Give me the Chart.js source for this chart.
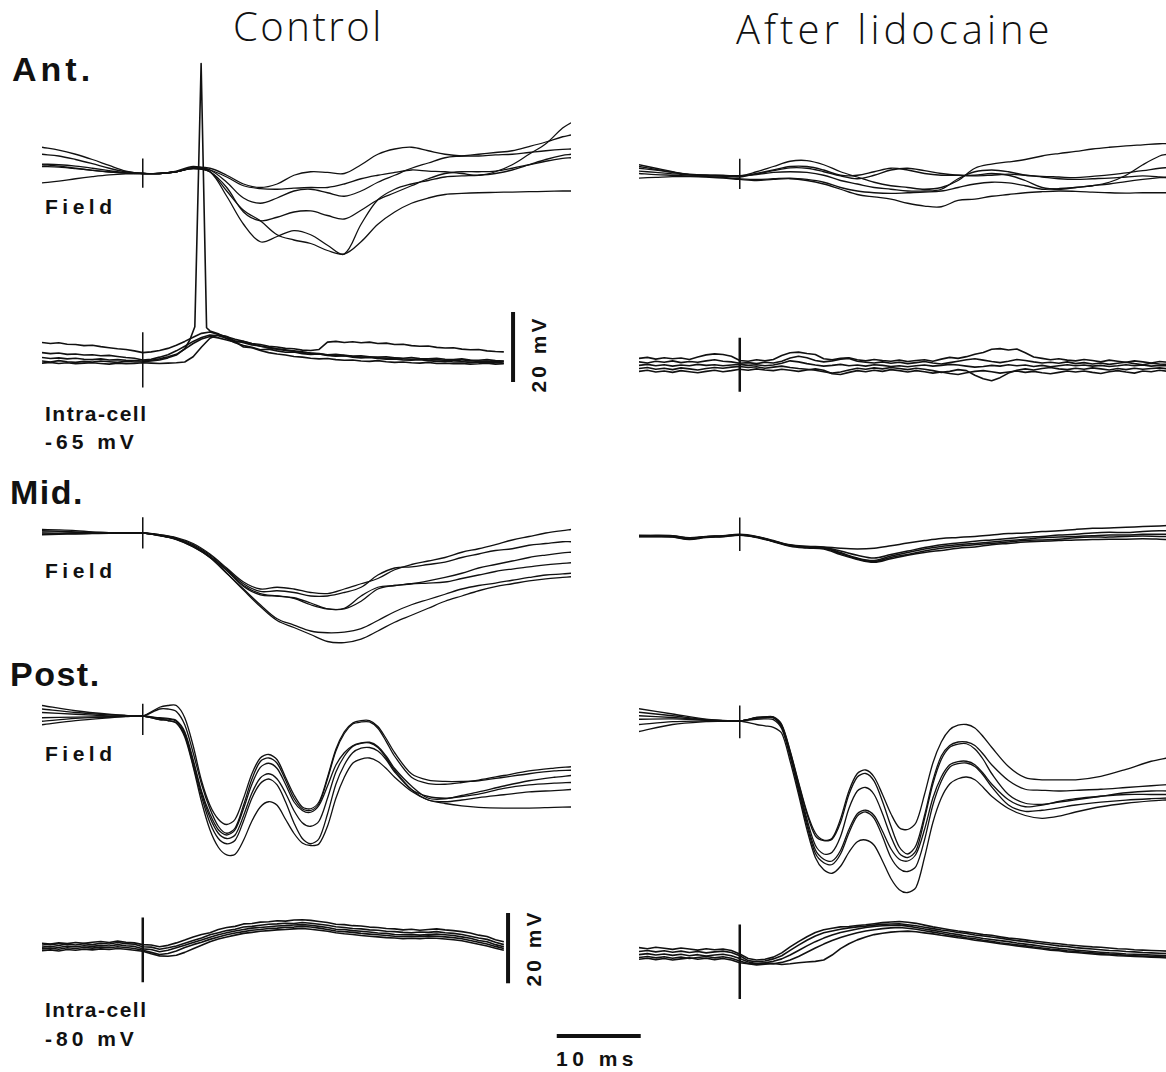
<!DOCTYPE html>
<html>
<head>
<meta charset="utf-8">
<script src="https://cdn.jsdelivr.net/npm/chart.js@4.4.1/dist/chart.umd.min.js"></script>
<style>
  body { margin: 0; width: 1166px; height: 1072px; background: #fff; position: relative; overflow: hidden; }
  canvas { position: absolute; }
  .lbl { position: absolute; font-family: "Liberation Sans", Arial, sans-serif; font-weight: bold; color: #111; line-height: 1; white-space: nowrap; }
  .row { font-size: 34px; letter-spacing: 1.5px; }
  .sub { font-size: 21px; letter-spacing: 1.5px; }
  .title { position: absolute; font-family: "Open Sans", sans-serif; font-weight: 300; font-size: 40px; line-height: 1; color: #111; white-space: nowrap; letter-spacing: 2.5px; }
  .vert { transform: translate(-50%, -50%) rotate(-90deg); }
</style>
</head>
<body>
<div class="title" style="left:233px; top:6px;">Control</div>
<div class="title" style="left:736px; top:9px; letter-spacing:4px;">After lidocaine</div>

<div class="lbl row" style="left:12px; top:52px; letter-spacing:4px;">Ant.</div>
<div class="lbl sub" style="left:45px; top:196px; letter-spacing:4.5px;">Field</div>
<div class="lbl sub" style="left:45px; top:403px;">Intra-cell</div>
<div class="lbl sub" style="left:45px; top:431px; letter-spacing:4px;">-65 mV</div>

<div class="lbl row" style="left:10px; top:475px;">Mid.</div>
<div class="lbl sub" style="left:45px; top:560px; letter-spacing:4.5px;">Field</div>

<div class="lbl row" style="left:10px; top:657px;">Post.</div>
<div class="lbl sub" style="left:45px; top:743px; letter-spacing:4.5px;">Field</div>
<div class="lbl sub" style="left:45px; top:999px;">Intra-cell</div>
<div class="lbl sub" style="left:45px; top:1028px; letter-spacing:4px;">-80 mV</div>

<div class="lbl sub vert" style="left:538px; top:354px; letter-spacing:3px;">20 mV</div>
<div class="lbl sub vert" style="left:533px; top:948px; letter-spacing:3px;">20 mV</div>
<div class="lbl sub" style="left:556px; top:1048px; letter-spacing:4.5px;">10 ms</div>

<script>
// ---- sample times, ms from the stimulus ----
const fieldTimes = [-12,-10,-8,-6,-4,-2,0,2,4,6,8,10,12,14,16,18,20,22,24,26,28,30,32,34,36,38,40,42,44,46,48,50,51];
const postFieldTimes = [-12,-8,-4,-2,0,2,3,4,5,6,7,8,9,10,11,12,13,14,15,16,17,18,19,20,21,22,23,24,25,26,27,28,29,30,32,34,36,38,40,43,46,49,51];
const ctlIntraTimes = [-12,-11,-10,-9,-8,-7,-6,-5,-4,-3,-2,-1,0,1,2,3,4,5,6,7,8,9,10,11,12,13,14,15,16,17,18,19,20,21,22,23,24,25,26,27,28,29,30,31,32,33,34,35,36,37,38,39,40,41,42,43];
const aftIntraTimes = [-12,-11,-10,-9,-8,-7,-6,-5,-4,-3,-2,-1,0,1,2,3,4,5,6,7,8,9,10,11,12,13,14,15,16,17,18,19,20,21,22,23,24,25,26,27,28,29,30,31,32,33,34,35,36,37,38,39,40,41,42,43,44,45,46,47,48,49,50,51];
const spikeTimes = [-12,-11,-10,-9,-8,-7,-6,-5,-4,-3,-2,-1,0,1,2,3,4,5,5.6,6.2,6.95,7.6,8,9,10,11,12,13,14,15,16,17,18,19,20,21,22,23,24,25,26,27,28,29,30,31,32,33,34,35,36,37,38,39,40,41,42,43];

// ---- Ant., control: field sweeps ----
const antCtl1 = [2.5,2.1,1.5,0.9,0.4,0.1,0,0,0.5,1.7,1.5,-0.5,-3.0,-4.0,-3.0,-0.5,0.5,0.3,0,2.5,5.5,7.0,7.5,6.5,5.5,5.0,5.0,5.3,5.5,6.0,6.5,6.9,7.0];
const antCtl2 = [7.5,6.7,5.5,4.0,2.3,0.7,0,0,0.7,2.0,1.0,-1.0,-3.5,-4.3,-4.5,-4.2,-4.0,-4.0,-3.0,-1.5,-0.5,0.3,1.0,0.7,0.5,0,-0.5,0.5,2.5,5.5,8.5,13.0,14.5];
const antCtl3 = [5.5,5.0,4.0,2.8,1.5,0.5,0,0,0.5,1.7,1.0,-2.5,-7.0,-8.5,-7.0,-5.0,-4.5,-5.5,-6.5,-5.0,-2.5,-0.5,1.5,3.0,4.5,5.0,5.5,6.0,6.5,7.7,9.0,10.5,11.0];
const antCtl4 = [2.0,1.8,1.4,0.9,0.5,0.1,0,0,0.5,1.5,0.5,-4.0,-11.0,-13.5,-12.5,-11.0,-10.7,-12.0,-13.0,-10.5,-7.5,-5.5,-3.5,-1.5,0,0.5,0.5,0.7,1.5,2.5,3.5,4.3,4.5];
const antCtl5 = [2.7,2.5,2.1,1.5,0.8,0.2,0,0,0.5,1.5,0.5,-6.5,-14.5,-19.5,-18.0,-16.3,-17.5,-20.5,-23.0,-14.5,-7.5,-4.5,-3.0,-2.0,-1.0,-0.7,-0.5,0,1.0,2.5,4.0,5.2,5.5];
const antCtl6 = [-2.7,-2.2,-1.5,-0.9,-0.4,-0.1,0,0,0.5,1.3,0.5,-5.0,-10.5,-13.5,-17.5,-19.0,-20.0,-22.0,-23.0,-19.5,-14.5,-11.0,-8.5,-7.0,-6.0,-5.7,-5.5,-5.4,-5.3,-5.2,-5.1,-5.0,-5.0];

// ---- Ant., control: intracellular sweeps (mV from -65 mV) ----
const antIntra1 = [5.3,5.0,5.2,4.8,4.7,4.4,4.5,4.1,3.8,3.5,3.3,2.9,2.4,2.6,3.0,3.6,4.5,5.6,6.8,7.9,8.3,7.6,6.9,6.2,5.6,5.0,4.7,4.2,4.0,3.6,3.5,3.1,3.0,3.3,5.4,5.6,5.3,5.5,5.2,5.4,5.0,5.1,4.7,4.8,4.4,4.2,4.3,3.9,3.7,3.8,3.4,3.2,3.3,2.9,2.7,2.6];
const antIntra2 = [2.4,2.1,2.3,1.9,2.0,1.7,1.8,1.5,1.6,1.3,1.0,0.8,0.3,0.5,1.1,1.8,2.9,4.2,5.6,6.7,7.4,7.2,6.5,5.8,5.2,4.6,4.3,3.7,3.4,3.0,2.9,2.5,2.3,2.1,1.8,1.9,1.6,1.4,1.5,1.2,1.1,1.2,0.9,0.8,1.0,0.7,0.6,0.8,0.5,0.4,0.6,0.3,0.2,0.4,0.1,0.0];
const antIntra3 = [1.0,0.7,0.9,0.6,0.8,0.5,0.4,0.6,0.3,0.4,0.2,0.1,0,0.2,0.6,1.2,1.9,3.4,5.0,6.3,7.0,6.6,6.0,5.4,5.6,4.9,4.2,3.9,3.5,3.2,2.8,2.6,2.2,2.0,1.7,1.5,1.6,1.3,1.1,1.2,0.9,0.8,0.9,0.6,0.5,0.6,0.3,0.4,0.2,0.3,0.0,0.1,-0.1,0.0,-0.2,-0.1];
const antIntra5 = [-0.6,-0.4,-0.7,-0.5,-0.8,-0.6,-0.5,-0.7,-0.9,-0.6,-0.8,-0.7,-0.5,-0.6,-0.7,-0.6,-0.5,-0.3,1.2,4.0,6.5,7.5,7.0,5.5,4.0,3.8,3.0,2.4,2.0,1.7,1.3,1.1,0.8,0.6,0.7,0.4,0.2,0.3,0.0,-0.1,0.1,-0.2,-0.4,-0.3,-0.5,-0.6,-0.4,-0.7,-0.6,-0.8,-0.7,-0.9,-0.8,-0.6,-0.9,-0.8];
const antSpike = [0.0,-0.3,0.1,-0.2,-0.4,-0.1,-0.3,0.0,-0.2,-0.4,-0.1,-0.3,-0.2,0.0,0.3,0.9,1.7,3.5,6.0,9.8,85,9.5,8.6,7.8,6.4,5.2,4.4,3.9,3.2,3.4,2.9,2.5,2.6,2.1,1.9,2.0,1.6,1.4,1.5,1.1,0.9,1.0,0.7,0.5,0.6,0.3,0.2,0.4,0.1,-0.1,0.0,-0.3,-0.2,-0.4,-0.3,-0.5,-0.4,-0.6];

// ---- Ant., after lidocaine ----
const antAft1 = [3.5,2.5,1.5,0.7,0.5,0.5,0.3,1.5,3.0,4.5,4.7,3.5,1.5,0,-1.5,-2.5,-3.0,-3.5,-3.0,-1.0,2.5,3.7,4.3,5.0,6.0,6.7,7.3,8.0,8.5,8.9,9.2,9.5,9.5];
const antAft2 = [2.5,2.0,1.3,0.7,0.3,0.2,0,1.0,2.0,3.0,3.0,2.0,0.5,0.5,1.5,2.5,2.0,1.0,0.5,0.5,0.5,1.0,0.5,-1.0,-3.0,-3.5,-3.0,-2.5,-1.5,0.5,3.5,6.0,6.5];
const antAft3 = [1.7,1.3,0.9,0.6,0.5,0.4,0.3,0.7,1.3,1.5,1.3,0.5,-1.0,-2.0,-3.0,-3.5,-4.0,-4.0,-3.5,-0.5,1.5,2.0,1.5,0.5,0,-0.5,-0.7,-0.5,-0.3,0,0.3,0,-0.3];
const antAft4 = [1.0,0.7,0.5,0.3,0.1,-0.1,-0.5,-0.7,-0.5,-0.3,-0.7,-1.5,-3.0,-4.0,-4.5,-4.7,-4.5,-4.3,-4.0,-3.0,-2.0,-1.5,-1.7,-2.5,-3.5,-3.3,-3.0,-2.5,-2.0,-1.3,-0.7,-0.2,0];
const antAft5 = [-0.3,-0.1,0.1,0.1,0,-0.3,-0.7,-1.0,-0.7,-0.5,-1.0,-2.0,-3.5,-5.0,-5.7,-6.3,-7.5,-8.3,-8.5,-6.7,-6.3,-5.5,-5.0,-4.5,-4.2,-4.0,-4.1,-4.3,-4.5,-4.6,-4.5,-4.5,-4.5];
const antAft6 = [3.0,2.2,1.4,0.8,0.5,0.4,0.4,0.8,1.8,2.6,2.5,1.5,0.3,-0.5,0.5,2.0,2.5,1.8,1.0,0.5,0.3,0.5,0.8,0.5,0.2,0,-0.2,0.2,0.6,1.2,1.8,2.5,2.7];

const antAftIntra1 = [1.6,1.9,1.4,1.8,1.5,1.7,1.3,2.0,2.6,2.9,2.7,2.2,1.0,0.8,1.2,0.9,1.3,2.4,3.2,3.4,3.0,2.7,1.5,1.2,1.6,1.8,1.2,0.9,1.3,1.0,0.8,1.1,0.7,1.0,1.2,0.8,1.4,1.9,1.6,2.1,2.8,3.3,4.2,4.4,4.0,4.3,3.2,2.0,1.6,1.2,1.5,1.1,0.9,1.3,1.0,0.6,1.1,0.8,0.5,0.9,0.6,0.3,0.7,0.5];
const antAftIntra2 = [0.6,0.3,0.8,0.5,0.9,0.4,0.7,0.5,0.9,1.2,0.8,0.6,0.2,0.4,0.1,0.5,0.3,0.8,1.7,2.2,1.8,1.0,0.6,0.9,1.4,1.6,0.8,0.5,0.3,0.6,0.2,0.5,0.1,0.4,0.7,0.3,0.0,0.4,0.8,1.2,1.5,1.1,0.7,0.4,0.8,1.3,1.0,0.6,0.3,0.5,0.2,0.6,0.1,0.4,0.0,0.3,-0.1,0.2,0.5,0.1,-0.2,0.2,0.0,-0.1];
const antAftIntra3 = [-0.4,-0.1,-0.5,-0.2,-0.6,-0.3,-0.5,-0.1,-0.4,-0.2,-0.5,-0.3,-0.1,-0.4,-0.2,-0.5,-0.3,0.2,0.9,0.6,0.1,-0.3,-0.6,-0.4,-0.1,-0.5,-0.3,-0.6,-0.2,-0.4,-0.7,-0.5,-0.8,-0.5,-0.3,-0.6,-0.4,-0.1,-0.3,-0.6,-0.9,-0.7,-0.4,-0.6,-0.2,-0.5,-0.3,-0.7,-0.4,-0.8,-0.5,-0.2,-0.5,-0.3,-0.6,-0.4,-0.7,-0.5,-0.2,-0.5,-0.3,-0.6,-0.4,-0.5];
const antAftIntra4 = [-1.3,-1.0,-1.5,-1.2,-1.6,-1.1,-1.4,-1.7,-1.3,-1.0,-1.2,-0.9,-0.7,-1.0,-0.8,-1.2,-0.9,-0.6,-1.0,-1.3,-1.5,-1.8,-2.2,-2.6,-2.3,-1.7,-1.2,-1.5,-1.1,-1.4,-1.0,-1.3,-1.6,-1.2,-1.5,-1.9,-2.4,-2.1,-1.6,-1.9,-3.2,-4.2,-4.8,-3.9,-2.6,-1.8,-1.4,-1.7,-1.3,-1.0,-1.4,-1.6,-1.2,-1.5,-1.1,-1.4,-1.7,-1.3,-1.6,-1.2,-1.5,-1.3,-1.1,-1.4];
const antAftIntra5 = [-2.1,-1.8,-2.3,-2.0,-2.4,-1.9,-2.2,-2.5,-2.1,-1.8,-2.2,-1.9,-1.5,-1.8,-1.4,-1.7,-1.9,-1.5,-1.8,-2.1,-1.7,-1.4,-1.8,-2.8,-3.0,-2.4,-1.9,-2.2,-1.8,-2.1,-1.6,-1.9,-2.3,-1.9,-2.2,-2.6,-2.3,-2.7,-3.0,-2.5,-2.1,-1.9,-2.2,-2.6,-2.3,-2.0,-2.4,-2.1,-2.5,-2.8,-2.4,-2.0,-2.3,-2.0,-2.4,-2.7,-2.2,-1.9,-2.3,-2.6,-2.0,-2.2,-1.8,-2.1];

// ---- Mid. ----
const midCtl1 = [1.0,0.9,0.7,0.3,0.1,0,0,-0.5,-1.3,-3.0,-6.0,-10.0,-14.0,-16.0,-15.5,-16.0,-17.0,-17.3,-16.0,-14.5,-13.0,-10.5,-9.0,-8.0,-7.0,-5.5,-4.5,-3.3,-2.0,-1.0,0,0.7,1.0];
const midCtl2 = [0.7,0.5,0.3,0.2,0.1,0,0,-0.5,-1.5,-3.3,-6.3,-10.3,-14.5,-16.7,-16.5,-17.0,-18.0,-18.0,-17.0,-15.5,-12.0,-10.0,-9.7,-9.0,-8.3,-7.0,-6.0,-5.0,-4.5,-3.5,-3.0,-2.5,-2.5];
const midCtl3 = [0.3,0.3,0.2,0.1,0,0,0,-0.7,-1.7,-3.7,-6.7,-10.7,-15.0,-17.3,-18.0,-18.7,-20.5,-21.7,-21.7,-19.5,-16.0,-15.0,-14.5,-13.7,-12.7,-11.5,-10.0,-9.0,-8.0,-7.0,-6.3,-5.7,-5.5];
const midCtl4 = [0,-0.1,0,-0.1,0,0,0,-0.7,-1.7,-3.7,-6.7,-10.7,-15.3,-17.7,-18.0,-18.5,-20.0,-21.7,-21.5,-18.0,-15.5,-15.0,-14.5,-14.3,-14.0,-13.0,-12.0,-11.0,-10.3,-9.7,-9.1,-8.7,-8.5];
const midCtl5 = [-0.3,-0.2,-0.2,-0.1,-0.1,0,0,-0.7,-1.8,-3.9,-7.0,-11.5,-16.0,-20.5,-24.5,-26.3,-28.0,-28.5,-28.3,-27.3,-25.0,-22.5,-20.5,-19.0,-17.5,-16.0,-15.0,-14.3,-13.5,-12.7,-12.0,-11.7,-11.5];
const midCtl6 = [-0.5,-0.4,-0.3,-0.2,-0.1,-0.1,0,-0.8,-1.9,-4.0,-7.0,-11.5,-16.3,-21.0,-25.0,-27.0,-29.0,-31.0,-31.3,-30.3,-28.0,-25.5,-23.5,-21.5,-19.5,-18.0,-16.5,-15.3,-14.5,-13.7,-13.1,-12.7,-12.5];

const midAft1 = [-0.2,-0.1,-0.2,-0.8,-0.4,-0.2,0.2,-0.4,-1.6,-2.8,-3.2,-3.4,-3.8,-4.0,-3.8,-3.1,-2.3,-1.6,-1.0,-0.7,-0.4,0,0.4,0.6,1.0,1.2,1.6,1.9,2.0,2.2,2.4,2.6,2.7];
const midAft2 = [-0.4,-0.4,-0.5,-1.2,-0.6,-0.4,0,-0.6,-1.8,-3.0,-3.5,-3.6,-4.6,-5.8,-6.6,-5.6,-4.6,-3.6,-2.8,-2.3,-1.8,-1.4,-1.0,-0.6,-0.4,0,0.2,0.6,0.8,0.7,1.0,1.2,1.2];
const midAft3 = [-0.3,-0.2,-0.4,-1.0,-0.5,-0.3,0.1,-0.5,-1.7,-2.9,-3.4,-3.6,-5.0,-6.6,-7.3,-6.0,-5.0,-4.0,-3.3,-2.8,-2.4,-2.0,-1.6,-1.2,-0.8,-0.6,-0.4,-0.2,0,0,0.2,0.2,0.2];
const midAft4 = [-0.1,-0.3,-0.3,-0.9,-0.5,-0.3,0,-0.6,-1.8,-3.1,-3.6,-3.8,-5.3,-6.8,-7.6,-6.4,-5.6,-4.6,-3.8,-3.2,-2.8,-2.4,-2.0,-1.6,-1.4,-1.2,-0.8,-0.6,-0.6,-0.4,-0.3,-0.4,-0.4];
const midAft5 = [-0.5,-0.5,-0.6,-1.3,-0.7,-0.5,-0.1,-0.7,-1.9,-3.2,-3.7,-4.0,-5.6,-7.0,-7.8,-6.8,-5.8,-5.0,-4.4,-3.8,-3.4,-2.8,-2.4,-2.0,-1.8,-1.6,-1.4,-1.3,-1.2,-1.2,-1.1,-1.2,-1.3];

// ---- Post. ----
const postCtl1 = [3.0,1.5,0.5,0.2,0,2.5,3.0,3.0,-0.5,-8.5,-18.5,-25.5,-29.5,-31.0,-29.5,-23.5,-16.5,-12.0,-11.0,-12.5,-17.5,-22.5,-26.0,-26.5,-24.5,-17.5,-9.5,-4.5,-2.0,-1.3,-1.3,-3.0,-6.5,-10.5,-16.5,-18.3,-18.7,-18.7,-18.5,-17.5,-16.5,-15.7,-15.5];
const postCtl2 = [2.0,1.0,0.3,0.1,0,2.0,2.0,1.3,-2.5,-10.5,-19.5,-26.5,-31.5,-33.5,-32.0,-25.5,-18.0,-13.0,-12.0,-13.5,-18.3,-23.5,-26.5,-27.0,-25.0,-18.0,-10.0,-5.0,-2.3,-1.7,-1.7,-3.5,-7.3,-11.5,-17.5,-19.3,-19.5,-19.0,-18.3,-17.0,-15.7,-14.9,-14.5];
const postCtl3 = [1.0,0.5,0,-0.1,0,-0.5,-0.7,-1.3,-4.5,-12.5,-21.5,-28.0,-32.5,-34.0,-32.5,-26.5,-19.5,-14.7,-13.5,-15.0,-19.5,-24.5,-27.0,-27.5,-25.5,-20.0,-14.0,-10.5,-8.5,-7.7,-7.5,-8.7,-11.5,-15.0,-20.0,-23.5,-23.7,-22.7,-21.7,-20.0,-18.5,-17.5,-17.0];
const postCtl4 = [-0.5,-0.3,-0.2,-0.1,0,-0.7,-0.9,-1.5,-5.0,-13.0,-22.0,-29.0,-33.5,-35.0,-34.0,-28.5,-22.0,-17.7,-16.5,-18.0,-22.0,-27.0,-30.5,-31.5,-30.0,-23.5,-16.0,-11.5,-8.7,-7.8,-7.7,-9.0,-12.0,-15.5,-21.0,-24.0,-24.5,-24.0,-23.3,-22.5,-21.7,-21.3,-21.0];
const postCtl5 = [-1.5,-0.7,-0.3,-0.1,0,-1.0,-1.3,-2.0,-5.5,-14.0,-23.0,-30.5,-35.0,-36.5,-35.5,-30.0,-23.5,-19.3,-18.0,-19.7,-24.5,-30.5,-35.0,-36.5,-35.0,-28.0,-19.5,-14.0,-10.5,-9.2,-9.0,-10.0,-12.5,-16.0,-21.0,-23.0,-23.5,-23.0,-22.3,-20.7,-19.7,-19.2,-19.0];
const postCtl6 = [-2.5,-1.3,-0.5,-0.2,0,-1.0,-1.3,-2.0,-6.0,-14.5,-24.5,-32.5,-37.5,-39.7,-39.5,-35.5,-30.0,-26.0,-24.5,-25.5,-29.5,-33.5,-36.3,-37.0,-36.5,-31.5,-23.5,-17.5,-13.5,-12.3,-12.0,-13.0,-15.0,-17.5,-21.5,-24.0,-25.0,-25.7,-26.1,-26.3,-26.3,-26.1,-26.0];

const postAft1 = [3.5,2.0,0.5,0.2,0,1.0,1.2,1.2,-1.0,-8.5,-17.5,-26.0,-32.0,-34.0,-33.5,-28.0,-20.0,-15.0,-14.0,-16.0,-21.0,-26.5,-30.5,-31.0,-29.0,-21.0,-12.0,-6.0,-2.5,-1.2,-1.0,-2.0,-4.5,-7.5,-13.0,-16.2,-16.8,-16.8,-16.8,-15.8,-13.8,-11.5,-10.5];
const postAft2 = [2.5,1.5,0.4,0.1,0,1.0,1.2,1.1,-1.2,-8.8,-17.8,-26.5,-32.8,-34.2,-33.8,-29.0,-21.0,-16.0,-15.0,-17.2,-23.0,-30.0,-36.0,-38.0,-35.5,-27.0,-17.0,-10.0,-7.0,-6.0,-6.0,-7.0,-9.5,-12.5,-17.0,-19.5,-19.8,-20.0,-19.8,-19.5,-19.0,-18.5,-18.2];
const postAft3 = [1.5,1.0,0.3,0.1,0,0.8,1.0,1.0,-1.5,-9.2,-18.5,-28.0,-35.5,-38.0,-37.5,-33.0,-25.0,-20.0,-19.0,-21.0,-26.5,-33.0,-37.8,-39.0,-37.0,-28.0,-18.0,-11.0,-7.5,-6.6,-6.5,-8.0,-11.0,-15.0,-21.0,-23.5,-23.8,-23.2,-22.5,-21.5,-20.5,-20.0,-20.0];
const postAft4 = [0.5,0.6,0.2,0.1,0,0.8,1.0,0.9,-1.8,-9.8,-19.2,-29.0,-36.8,-39.5,-40.0,-37.0,-31.0,-26.5,-25.5,-27.0,-31.5,-36.5,-39.5,-40.0,-38.0,-31.0,-22.0,-16.0,-12.5,-11.6,-11.5,-12.5,-15.0,-18.0,-22.5,-24.5,-24.0,-23.0,-22.2,-21.5,-21.0,-21.0,-21.0];
const postAft5 = [-1.0,-0.2,0,0,0,0.5,0.6,0.4,-2.2,-10.2,-20.0,-29.8,-37.8,-40.5,-41.0,-38.0,-32.0,-27.2,-26.0,-27.8,-33.0,-39.0,-42.2,-43.0,-41.5,-34.0,-24.0,-17.2,-13.2,-12.2,-12.0,-13.0,-15.5,-18.8,-24.0,-25.8,-25.5,-24.8,-24.0,-23.2,-22.6,-22.2,-22.0];
const postAft6 = [-3.0,-1.0,-0.2,-0.1,0,-1.0,-1.4,-1.8,-3.5,-11.5,-21.0,-31.0,-39.0,-42.5,-43.5,-41.5,-37.5,-34.5,-34.0,-35.5,-40.0,-45.0,-48.2,-49.0,-47.5,-39.0,-29.0,-22.0,-18.0,-16.5,-16.0,-16.8,-19.0,-21.5,-25.0,-27.0,-27.8,-27.2,-26.0,-24.5,-23.5,-22.8,-22.5];

// intracellular, mV from -80 mV
const postIntra1 = [1.4,1.2,1.5,1.3,1.6,1.4,1.7,1.9,1.6,2.0,1.7,1.5,1.0,0.9,0.4,0.8,1.5,2.3,3.2,3.9,4.4,5.3,5.9,6.2,6.9,7.0,7.4,7.5,7.8,7.7,8.0,8.1,7.9,7.6,7.3,6.8,6.7,6.4,6.3,6.0,5.9,5.6,5.5,5.2,5.4,5.1,5.3,5.5,5.2,5.0,4.7,4.3,3.7,3.3,2.4,1.8];
const postIntra2 = [0.9,1.1,0.8,1.2,0.9,1.3,1.0,1.4,1.2,1.6,1.3,1.1,0.4,0.3,-0.3,0.1,0.6,1.4,2.2,2.9,3.8,4.4,5.0,5.4,6.0,6.2,6.5,6.8,6.9,7.1,7.0,7.3,7.1,6.8,6.5,6.1,5.9,5.6,5.5,5.2,5.1,4.8,4.7,4.5,4.4,4.6,4.5,4.7,4.4,4.2,3.9,3.4,2.9,2.5,1.7,1.0];
const postIntra3 = [0.3,0.5,0.2,0.6,0.4,0.7,0.5,0.8,0.6,1.0,0.7,0.5,-0.2,-0.4,-1.0,-0.6,0.1,0.8,1.6,2.3,3.1,3.8,4.4,4.9,5.3,5.7,5.9,6.1,6.3,6.4,6.6,6.7,6.5,6.2,5.9,5.4,5.3,5.0,4.8,4.6,4.3,4.2,3.9,3.8,3.9,3.7,3.9,4.0,3.8,3.6,3.2,2.8,2.2,1.8,1.0,0.4];
const postIntra4 = [-0.2,0.0,-0.3,0.1,-0.1,0.2,0.0,0.3,0.1,0.4,0.2,-0.1,-0.6,-1.2,-1.8,-1.5,-0.8,0.2,1.0,1.7,2.5,3.2,3.8,4.3,4.7,5.1,5.3,5.6,5.7,5.9,6.0,6.2,6.0,5.7,5.3,4.9,4.7,4.5,4.2,4.0,3.8,3.6,3.4,3.3,3.4,3.3,3.5,3.4,3.2,3.0,2.7,2.2,1.7,1.2,0.5,-0.1];
const postIntra5 = [-0.7,-0.5,-0.8,-0.4,-0.6,-0.3,-0.5,-0.2,-0.4,-0.1,-0.3,-0.6,-0.9,-1.6,-2.2,-2.3,-2.0,-1.2,-0.2,0.8,1.8,2.6,3.2,3.7,4.2,4.5,4.8,5.0,5.2,5.3,5.5,5.6,5.4,5.1,4.8,4.4,4.1,3.9,3.6,3.4,3.2,3.0,2.9,2.7,2.8,2.7,2.9,2.8,2.6,2.4,2.1,1.6,1.1,0.6,0.0,-0.6];

const postAftIntra1 = [2.3,2.0,2.4,2.1,1.8,2.2,1.9,1.6,2.0,1.7,1.9,1.5,0.5,-0.8,-1.2,-1.0,-0.4,0.8,2.5,4.0,5.4,6.6,7.4,7.8,8.2,8.3,8.6,8.8,9.1,9.4,9.6,9.7,9.5,9.2,8.7,8.2,7.8,7.4,7.0,6.7,6.4,6.0,5.8,5.4,5.0,4.8,4.5,4.2,3.9,3.6,3.4,3.1,2.9,2.7,2.5,2.4,2.2,2.0,1.9,1.7,1.6,1.5,1.4,1.3];
const postAftIntra2 = [1.2,1.5,1.1,1.4,1.0,1.3,0.9,1.2,0.8,1.1,1.3,0.9,0.0,-1.4,-1.7,-1.5,-0.9,0.0,1.5,3.0,4.4,5.6,6.5,7.0,7.5,7.9,8.2,8.4,8.7,8.9,9.0,9.1,8.8,8.5,8.1,7.7,7.3,7.0,6.6,6.3,5.9,5.6,5.3,5.0,4.6,4.3,4.0,3.7,3.4,3.1,2.8,2.6,2.3,2.1,1.9,1.7,1.5,1.4,1.2,1.1,0.9,0.8,0.7,0.6];
const postAftIntra3 = [0.3,0.6,0.2,0.5,0.1,0.4,0.0,0.3,-0.1,0.2,0.4,0.0,-0.8,-1.8,-2.2,-2.0,-1.6,-0.9,0.2,1.5,2.8,4.0,5.0,5.9,6.6,7.1,7.6,8.0,8.3,8.5,8.6,8.7,8.4,8.0,7.6,7.2,6.8,6.4,6.0,5.6,5.3,4.9,4.6,4.3,4.0,3.6,3.3,3.0,2.7,2.4,2.1,1.9,1.6,1.4,1.2,1.0,0.8,0.7,0.5,0.4,0.3,0.2,0.1,0.0];
const postAftIntra4 = [-0.5,-0.2,-0.6,-0.3,-0.7,-0.4,-0.8,-0.5,-0.2,-0.6,-0.3,-0.7,-1.5,-2.2,-2.4,-2.1,-2.3,-1.9,-1.2,-0.2,1.0,2.2,3.3,4.3,5.2,5.9,6.5,7.0,7.4,7.7,7.9,8.0,7.8,7.5,7.1,6.7,6.3,5.9,5.5,5.1,4.8,4.4,4.1,3.7,3.4,3.1,2.8,2.5,2.2,1.9,1.7,1.4,1.2,1.0,0.8,0.6,0.4,0.3,0.1,0.0,-0.1,-0.2,-0.3,-0.4];
const postAftIntra5 = [-1.0,-0.7,-1.1,-0.8,-1.2,-0.9,-0.6,-1.0,-0.7,-1.1,-0.8,-1.2,-2.0,-2.3,-2.6,-2.4,-2.2,-2.5,-2.3,-2.0,-1.8,-1.6,-1.2,0.2,2.0,3.4,4.5,5.3,6.0,6.4,6.7,6.9,7.0,6.8,6.5,6.2,5.8,5.5,5.1,4.8,4.4,4.1,3.8,3.4,3.1,2.8,2.5,2.2,1.9,1.6,1.4,1.1,0.9,0.7,0.5,0.3,0.2,0.0,-0.1,-0.2,-0.3,-0.4,-0.5,-0.6];

// stimulus artefact extents (top, bottom)
const antCtlFieldTick = [4.3, -4.1];
const antCtlIntraTick = [8.2, -7.6];
const antAftFieldTick = [5.2, -3.4];
const antAftIntraTick = [7.5, -7.9];
const midCtlFieldTick = [4.5, -4.4];
const midAftFieldTick = [5.0, -4.6];
const postCtlFieldTick = [3.5, -5.4];
const postAftFieldTick = [4.4, -4.9];
const postCtlIntraTick = [8.7, -9.7];
const postAftIntraTick = [8.9, -12.3];

// calibration bars
const mvBar = 20;   // mV
const msBar = 10;   // ms

// ---- drawing ----
const PX_MS = 8.4;   // pixels per ms
const PX_MV = 3.5;   // pixels per mV
const CTL_X = 143;   // stimulus position, control column
const AFT_X = 739.5; // stimulus position, lidocaine column

function sweep(times, values) {
  return times.map((t, i) => ({ x: t, y: values[i] }));
}

function line(points, width) {
  return { data: points, borderColor: '#111', borderWidth: width, pointRadius: 0, tension: 0, borderCapStyle: 'butt' };
}

function panel(p) {
  const xMin = p.xMin ?? -12, xMax = p.xMax ?? 51;
  const c = document.createElement('canvas');
  c.width = Math.round((xMax - xMin) * PX_MS);
  c.height = Math.round((p.yMax - p.yMin) * PX_MV);
  c.style.left = (p.stimX + xMin * PX_MS) + 'px';
  c.style.top = (p.baseY - p.yMax * PX_MV) + 'px';
  document.body.appendChild(c);

  const sets = p.sweeps.map(s => ({
    data: sweep(s[0], s[1]),
    borderColor: '#111',
    borderWidth: p.lw,
    pointRadius: 0,
    tension: p.tension,
    borderJoinStyle: 'round'
  }));
  sets.push(line([{ x: 0, y: p.tick[0] }, { x: 0, y: p.tick[1] }], p.tickW));
  (p.bars || []).forEach(b => sets.push(line(b, 4)));

  new Chart(c, {
    type: 'line',
    data: { datasets: sets },
    options: {
      responsive: false,
      animation: false,
      devicePixelRatio: 1,
      layout: { padding: 0 },
      plugins: { legend: { display: false }, tooltip: { enabled: false } },
      scales: {
        x: { type: 'linear', min: xMin, max: xMax, display: false },
        y: { type: 'linear', min: p.yMin, max: p.yMax, display: false }
      }
    }
  });
}

const F = fieldTimes, P = postFieldTimes;

panel({ stimX: CTL_X, baseY: 173, yMin: -27, yMax: 17, lw: 1.3, tension: 0.35, tick: antCtlFieldTick, tickW: 1.5,
  sweeps: [[F, antCtl1], [F, antCtl2], [F, antCtl3], [F, antCtl4], [F, antCtl5], [F, antCtl6]] });

panel({ stimX: CTL_X, baseY: 361, yMin: -12, yMax: 90, lw: 1.6, tension: 0, tick: antCtlIntraTick, tickW: 1.5,
  sweeps: [[ctlIntraTimes, antIntra1], [ctlIntraTimes, antIntra2], [ctlIntraTimes, antIntra3], [spikeTimes, antSpike], [ctlIntraTimes, antIntra5]],
  bars: [[{ x: 44.1, y: -6 }, { x: 44.1, y: -6 + mvBar }]] });

panel({ stimX: AFT_X, baseY: 176.7, yMin: -12, yMax: 12, lw: 1.3, tension: 0.35, tick: antAftFieldTick, tickW: 1.5,
  sweeps: [[F, antAft1], [F, antAft2], [F, antAft3], [F, antAft4], [F, antAft5], [F, antAft6]] });

panel({ stimX: AFT_X, baseY: 364, yMin: -10, yMax: 10, lw: 1.6, tension: 0, tick: antAftIntraTick, tickW: 2.5,
  sweeps: [[aftIntraTimes, antAftIntra1], [aftIntraTimes, antAftIntra2], [aftIntraTimes, antAftIntra3], [aftIntraTimes, antAftIntra4], [aftIntraTimes, antAftIntra5]] });

panel({ stimX: CTL_X, baseY: 533, yMin: -34, yMax: 6, lw: 1.3, tension: 0.35, tick: midCtlFieldTick, tickW: 1.5,
  sweeps: [[F, midCtl1], [F, midCtl2], [F, midCtl3], [F, midCtl4], [F, midCtl5], [F, midCtl6]] });

panel({ stimX: AFT_X, baseY: 534.7, yMin: -10, yMax: 6, lw: 1.5, tension: 0.35, tick: midAftFieldTick, tickW: 1.5,
  sweeps: [[F, midAft1], [F, midAft2], [F, midAft3], [F, midAft4], [F, midAft5]] });

panel({ stimX: CTL_X, baseY: 716, yMin: -42, yMax: 6, lw: 1.3, tension: 0.3, tick: postCtlFieldTick, tickW: 1.5,
  sweeps: [[P, postCtl1], [P, postCtl2], [P, postCtl3], [P, postCtl4], [P, postCtl5], [P, postCtl6]] });

panel({ stimX: AFT_X, baseY: 721, yMin: -52, yMax: 6, lw: 1.3, tension: 0.3, tick: postAftFieldTick, tickW: 1.5,
  sweeps: [[P, postAft1], [P, postAft2], [P, postAft3], [P, postAft4], [P, postAft5], [P, postAft6]] });

panel({ stimX: CTL_X, baseY: 947.6, xMax: 61, yMin: -27, yMax: 12, lw: 1.6, tension: 0, tick: postCtlIntraTick, tickW: 2.5,
  sweeps: [[ctlIntraTimes, postIntra1], [ctlIntraTimes, postIntra2], [ctlIntraTimes, postIntra3], [ctlIntraTimes, postIntra4], [ctlIntraTimes, postIntra5]],
  bars: [[{ x: 43.5, y: -10 }, { x: 43.5, y: -10 + mvBar }], [{ x: 49.3, y: -25 }, { x: 49.3 + msBar, y: -25 }]] });

panel({ stimX: AFT_X, baseY: 955, yMin: -14, yMax: 11, lw: 1.6, tension: 0, tick: postAftIntraTick, tickW: 2.5,
  sweeps: [[aftIntraTimes, postAftIntra1], [aftIntraTimes, postAftIntra2], [aftIntraTimes, postAftIntra3], [aftIntraTimes, postAftIntra4], [aftIntraTimes, postAftIntra5]] });
</script>
</body>
</html>
